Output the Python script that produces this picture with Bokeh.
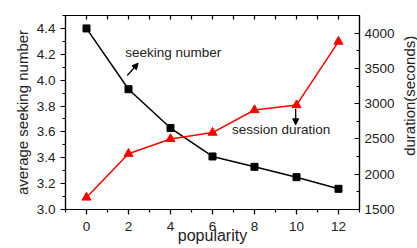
from bokeh.plotting import figure
from bokeh.layouts import row
from bokeh.models import (Range1d, LinearAxis, SingleIntervalTicker, FixedTicker,
                          NumeralTickFormatter, Label, Arrow, NormalHead)
from bokeh.embed import file_html
from bokeh.resources import INLINE

# data
popularity = [0, 2, 4, 6, 8, 10, 12]
seeking_number = [4.40, 3.93, 3.63, 3.41, 3.33, 3.25, 3.16]
session_duration = [1670, 2290, 2500, 2590, 2910, 2980, 3880]

# axis titles
x_title = "popularity"
y_left_title = "average seeking number"
y_right_title = "duration(seconds)"

# annotation placement (data coordinates)
seek_label_xy = (1.84, 4.213)
seek_arrow = (1.94, 4.036, 2.46, 4.131)
dur_label_xy = (6.93, 3.621)
dur_arrow = (9.96, 3.779, 9.96, 3.655)

FONT = "Liberation Sans"
TICK_COL = "#222222"

p = figure(width=397, height=248, x_range=Range1d(-1, 13), y_range=Range1d(3.0, 4.5),
           output_backend="svg", toolbar_location=None,
           min_border_left=65, min_border_right=36, min_border_top=15, min_border_bottom=39,
           x_axis_location=None, y_axis_location=None)
p.extra_y_ranges = {"dur": Range1d(1500, 4250)}
p.grid.visible = False
p.outline_line_color = "black"
p.outline_line_width = 1.2
p.background_fill_color = "white"
p.border_fill_color = "white"

def style(ax):
    ax.axis_line_color = "black"
    ax.axis_line_width = 1.2
    ax.major_tick_line_color = "black"
    ax.minor_tick_line_color = "black"
    ax.major_tick_line_width = 1.2
    ax.minor_tick_line_width = 1.2
    ax.major_label_text_font = FONT
    ax.major_label_text_font_size = "13.5px"
    ax.major_label_text_color = TICK_COL
    ax.axis_label_text_font = FONT
    ax.axis_label_text_font_style = "normal"
    ax.axis_label_text_color = TICK_COL

# bottom axis
xb = LinearAxis(ticker=SingleIntervalTicker(interval=2, num_minor_ticks=2), axis_label=x_title)
style(xb)
xb.major_tick_out = 5; xb.major_tick_in = 0
xb.minor_tick_out = 3; xb.minor_tick_in = 0
xb.major_label_standoff = 7
xb.axis_label_standoff = -7
xb.axis_label_text_font_size = "16px"
p.add_layout(xb, "below")

# top axis (ticks only)
xt = LinearAxis(ticker=FixedTicker(ticks=list(range(0, 13)), minor_ticks=[]))
style(xt)
xt.major_tick_in = 4; xt.major_tick_out = 0
xt.major_label_text_font_size = "0px"
xt.major_label_standoff = 0
xt.major_label_text_alpha = 0
p.add_layout(xt, "above")

# left axis
yl = LinearAxis(ticker=SingleIntervalTicker(interval=0.2, num_minor_ticks=2),
                formatter=NumeralTickFormatter(format="0.0"),
                axis_label=y_left_title)
style(yl)
yl.major_tick_out = 5; yl.major_tick_in = 0
yl.minor_tick_out = 3; yl.minor_tick_in = 0
yl.major_label_standoff = 5
yl.axis_label_standoff = 3
yl.axis_label_text_font_size = "15px"
p.add_layout(yl, "left")

# right axis (title drawn by the narrow companion figure)
yr = LinearAxis(y_range_name="dur", ticker=SingleIntervalTicker(interval=500, num_minor_ticks=2))
style(yr)
yr.major_tick_in = 5; yr.major_tick_out = 0
yr.minor_tick_in = 3; yr.minor_tick_out = 0
yr.major_label_standoff = 5
p.add_layout(yr, "right")

# series
p.line(popularity, seeking_number, line_color="black", line_width=1.5)
p.scatter(popularity, seeking_number, marker="square", size=7, fill_color="black", line_color="black")
p.line(popularity, session_duration, line_color="red", line_width=1.5, y_range_name="dur")
p.scatter(popularity, session_duration, marker="triangle", size=9, fill_color="red",
          line_color="red", y_range_name="dur")

# annotations
p.add_layout(Label(x=seek_label_xy[0], y=seek_label_xy[1], text="seeking number",
                   text_font=FONT, text_font_size="13.5px", text_color=TICK_COL,
                   text_baseline="alphabetic"))
p.add_layout(Label(x=dur_label_xy[0], y=dur_label_xy[1], text="session duration",
                   text_font=FONT, text_font_size="13.5px", text_color=TICK_COL,
                   text_baseline="alphabetic"))
p.add_layout(Arrow(x_start=seek_arrow[0], y_start=seek_arrow[1], x_end=seek_arrow[2], y_end=seek_arrow[3],
                   line_color="black", line_width=1.3,
                   end=NormalHead(size=6, fill_color="black", line_color="black")))
p.add_layout(Arrow(x_start=dur_arrow[0], y_start=dur_arrow[1], x_end=dur_arrow[2], y_end=dur_arrow[3],
                   line_color="black", line_width=1.3,
                   end=NormalHead(size=6, fill_color="black", line_color="black")))

# narrow companion figure carrying the right-hand title (reads bottom-to-top)
# (leading no-break spaces lift the centred title to where the reference has it)
p2 = figure(width=20, height=248, x_range=Range1d(0, 1), y_range=Range1d(0, 1),
            output_backend="svg", toolbar_location=None,
            min_border_left=0, min_border_right=0, min_border_top=15, min_border_bottom=39,
            x_axis_location=None, y_axis_location=None)
p2.grid.visible = False
p2.outline_line_color = None
p2.background_fill_color = "white"
p2.border_fill_color = "white"
ya2 = LinearAxis(ticker=FixedTicker(ticks=[], minor_ticks=[]),
                 axis_label="\u00a0" * 8 + y_right_title)
ya2.axis_line_color = None
ya2.major_tick_line_color = None
ya2.minor_tick_line_color = None
ya2.major_tick_out = 0; ya2.major_tick_in = 0
ya2.minor_tick_out = 0; ya2.minor_tick_in = 0
ya2.major_label_standoff = 0
ya2.major_label_text_font_size = "0px"
ya2.axis_label_standoff = 0
ya2.axis_label_text_font = FONT
ya2.axis_label_text_font_style = "normal"
ya2.axis_label_text_font_size = "15px"
ya2.axis_label_text_color = TICK_COL
p2.add_layout(ya2, "left")

layout = row(p, p2, spacing=0)
open("out.html", "w").write(file_html(layout, INLINE))
